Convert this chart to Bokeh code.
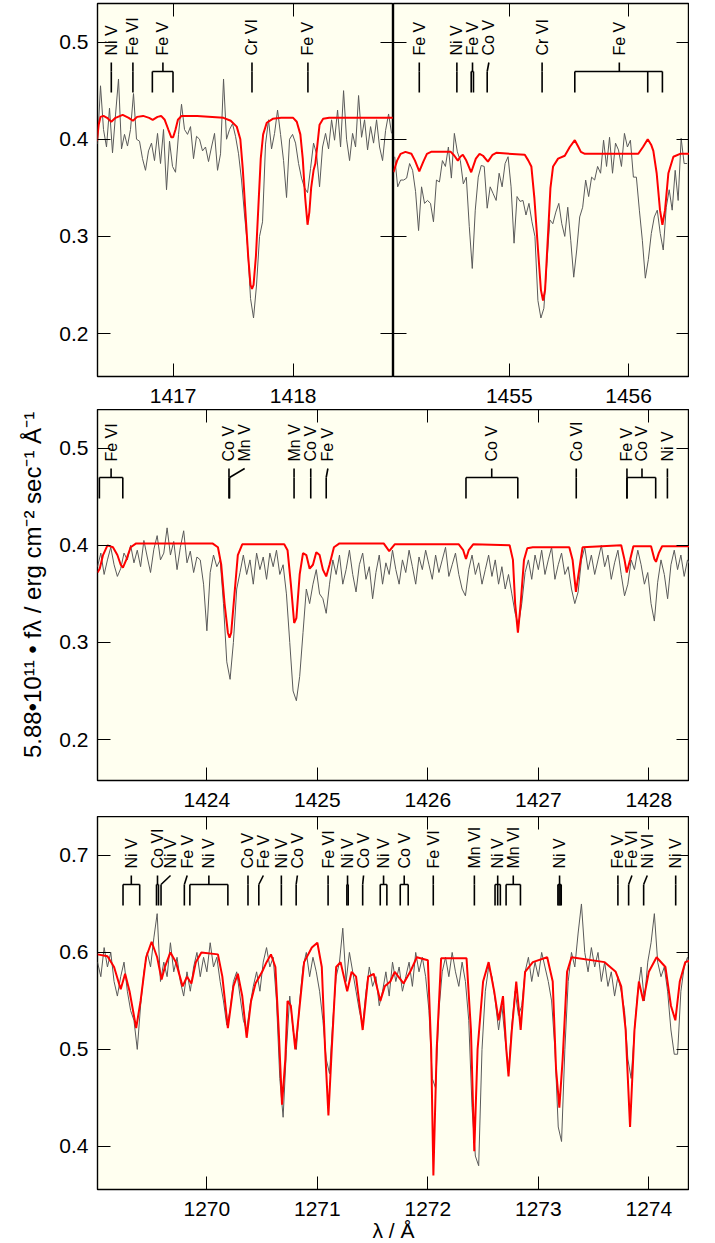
import numpy as np
from bokeh.plotting import figure
from bokeh.layouts import column, row
from bokeh.models import LinearAxis, FixedTicker, Range1d, CustomJSTickFormatter
from bokeh.embed import file_html
from bokeh.resources import INLINE
from bokeh.core.properties import value

FONT = "Liberation Sans"
BG = "#fffff0"
OBS_COLOR = "#5a5a5a"
MOD_COLOR = "#ff0000"

# ---------------- data: top-left panel (1416-1419 A) ----------------
TL_OBS_WL0 = 1416.37
TL_OBS_DWL = 0.025
TL_OBS_FLUX = [0.395, 0.455, 0.410, 0.392, 0.432, 0.386, 0.425, 0.462, 0.390, 0.405,
               0.393, 0.410, 0.447, 0.400, 0.398, 0.380, 0.368, 0.388, 0.396, 0.378,
               0.406, 0.375, 0.410, 0.348, 0.398, 0.372, 0.366, 0.405, 0.436, 0.410,
               0.405, 0.413, 0.380, 0.403, 0.400, 0.388, 0.392, 0.377, 0.392, 0.406,
               0.368, 0.385, 0.462, 0.400, 0.410, 0.416, 0.403, 0.385, 0.358, 0.322,
               0.290, 0.236, 0.216, 0.250, 0.300, 0.315, 0.395, 0.420, 0.390, 0.406,
               0.430, 0.405, 0.378, 0.340, 0.400, 0.405, 0.396, 0.375, 0.360, 0.350,
               0.345, 0.370, 0.396, 0.385, 0.351, 0.392, 0.406, 0.390, 0.420, 0.399,
               0.430, 0.392, 0.450, 0.400, 0.378, 0.406, 0.392, 0.445, 0.402, 0.420,
               0.389, 0.413, 0.396, 0.420, 0.392, 0.378, 0.409, 0.426, 0.406]
TL_MOD_WL = [1416.365, 1416.38, 1416.395, 1416.42, 1416.45, 1416.485, 1416.52, 1416.58, 1416.63, 1416.665,
             1416.70, 1416.75, 1416.80, 1416.83, 1416.87, 1416.90, 1416.93, 1416.96, 1416.985, 1417.00,
             1417.02, 1417.04, 1417.07, 1417.20, 1417.42, 1417.48, 1417.53, 1417.56, 1417.58, 1417.60,
             1417.625, 1417.645, 1417.657, 1417.67, 1417.69, 1417.71, 1417.73, 1417.75, 1417.78, 1417.83,
             1417.90, 1418.00, 1418.03, 1418.06, 1418.08, 1418.10, 1418.12, 1418.135, 1418.15, 1418.17,
             1418.185, 1418.20, 1418.22, 1418.25, 1418.30, 1418.83]
TL_MOD_FLUX = [0.398, 0.415, 0.423, 0.424, 0.422, 0.418, 0.422, 0.425, 0.422, 0.419,
               0.423, 0.424, 0.422, 0.420, 0.423, 0.424, 0.420, 0.410, 0.402, 0.402,
               0.410, 0.420, 0.424, 0.424, 0.422, 0.419, 0.413, 0.400, 0.370, 0.330,
               0.280, 0.250, 0.246, 0.250, 0.280, 0.330, 0.380, 0.405, 0.417, 0.421,
               0.422, 0.422, 0.418, 0.405, 0.380, 0.340, 0.312, 0.325, 0.350, 0.368,
               0.375, 0.392, 0.415, 0.421, 0.422, 0.422]
TL_IDS = [("Ni V", 1416.485, [1416.485]),
          ("Fe VI", 1416.665, [1416.665]),
          ("Fe V", 1416.915, [1416.827, 1416.999]),
          ("Cr VI", 1417.657, [1417.657]),
          ("Fe V", 1418.123, [1418.123])]

# ---------------- data: top-right panel (1454-1456.5 A) ----------------
TR_OBS_WL0 = 1454.04
TR_OBS_DWL = 0.025
TR_OBS_FLUX = [0.382, 0.351, 0.358, 0.358, 0.360, 0.375, 0.368, 0.346, 0.306, 0.351,
               0.334, 0.337, 0.334, 0.315, 0.358, 0.356, 0.378, 0.372, 0.392, 0.360,
               0.406, 0.387, 0.378, 0.354, 0.361, 0.310, 0.267, 0.327, 0.361, 0.373,
               0.372, 0.329, 0.351, 0.344, 0.337, 0.365, 0.351, 0.375, 0.382, 0.351,
               0.293, 0.341, 0.336, 0.337, 0.322, 0.334, 0.315, 0.300, 0.234, 0.216,
               0.226, 0.272, 0.317, 0.313, 0.325, 0.334, 0.313, 0.300, 0.330, 0.296,
               0.258, 0.286, 0.320, 0.330, 0.358, 0.341, 0.361, 0.358, 0.372, 0.365,
               0.399, 0.372, 0.402, 0.365, 0.396, 0.389, 0.372, 0.406, 0.392, 0.399,
               0.361, 0.361, 0.327, 0.296, 0.257, 0.276, 0.303, 0.320, 0.327, 0.303,
               0.286, 0.330, 0.348, 0.327, 0.368, 0.337, 0.401, 0.375, 0.375]
TR_MOD_WL = [1454.03, 1454.06, 1454.09, 1454.13, 1454.18, 1454.21, 1454.246, 1454.28, 1454.31, 1454.345,
             1454.51, 1454.54, 1454.569, 1454.59, 1454.611, 1454.64, 1454.681, 1454.72, 1454.751, 1454.78,
             1454.821, 1454.86, 1454.891, 1455.13, 1455.16, 1455.185, 1455.21, 1455.241, 1455.265, 1455.283,
             1455.30, 1455.325, 1455.345, 1455.367, 1455.409, 1455.465, 1455.507, 1455.549, 1455.575, 1455.60,
             1455.633, 1456.081, 1456.12, 1456.16, 1456.19, 1456.207, 1456.235, 1456.263, 1456.283, 1456.305,
             1456.333, 1456.375, 1456.431, 1456.51]
TR_MOD_FLUX = [0.366, 0.378, 0.385, 0.387, 0.385, 0.378, 0.367, 0.377, 0.385, 0.387,
               0.387, 0.383, 0.378, 0.382, 0.384, 0.378, 0.366, 0.380, 0.385, 0.383,
               0.377, 0.384, 0.386, 0.384, 0.378, 0.372, 0.340, 0.286, 0.245, 0.234,
               0.245, 0.303, 0.350, 0.372, 0.380, 0.383, 0.392, 0.399, 0.393, 0.387,
               0.385, 0.385, 0.392, 0.400, 0.394, 0.388, 0.365, 0.327, 0.312, 0.327,
               0.365, 0.382, 0.385, 0.385]
TR_IDS = [("Fe V", 1454.246, [1454.246]),
          ("Ni V", 1454.561, [1454.561]),
          ("Fe V", 1454.692, [1454.681, 1454.700]),
          ("Co V", 1454.829, [1454.815]),
          ("Cr VI", 1455.275, [1455.275]),
          ("Fe V", 1455.922, [1455.549, 1456.160, 1456.283])]

# ---------------- data: middle panel (1423-1428.4 A) ----------------
MID_OBS_WL0 = 1423.01
MID_OBS_DWL = 0.03
MID_OBS_FLUX = [0.378, 0.392, 0.370, 0.385, 0.398, 0.380, 0.368, 0.376, 0.392, 0.385,
                0.400, 0.382, 0.395, 0.378, 0.405, 0.388, 0.372, 0.396, 0.410, 0.385,
                0.392, 0.418, 0.390, 0.404, 0.375, 0.398, 0.415, 0.382, 0.394, 0.372,
                0.388, 0.385, 0.360, 0.312, 0.372, 0.390, 0.378, 0.385, 0.340, 0.280,
                0.262, 0.300, 0.355, 0.372, 0.390, 0.370, 0.385, 0.360, 0.392, 0.375,
                0.388, 0.365, 0.392, 0.378, 0.395, 0.370, 0.380, 0.350, 0.300, 0.250,
                0.240, 0.265, 0.310, 0.355, 0.340, 0.360, 0.375, 0.350, 0.345, 0.330,
                0.360, 0.385, 0.370, 0.390, 0.360, 0.375, 0.395, 0.370, 0.352, 0.380,
                0.392, 0.365, 0.378, 0.345, 0.372, 0.390, 0.360, 0.382, 0.370, 0.395,
                0.375, 0.360, 0.385, 0.372, 0.395, 0.378, 0.360, 0.388, 0.375, 0.395,
                0.380, 0.365, 0.390, 0.372, 0.385, 0.398, 0.368, 0.380, 0.392, 0.370,
                0.355, 0.348, 0.375, 0.390, 0.370, 0.382, 0.360, 0.375, 0.390, 0.368,
                0.385, 0.360, 0.378, 0.355, 0.370, 0.350, 0.330, 0.318, 0.340, 0.372,
                0.385, 0.365, 0.390, 0.375, 0.395, 0.370, 0.385, 0.398, 0.365, 0.380,
                0.392, 0.370, 0.378, 0.355, 0.340, 0.352, 0.385, 0.398, 0.375, 0.390,
                0.370, 0.385, 0.400, 0.378, 0.390, 0.365, 0.382, 0.395, 0.370, 0.348,
                0.360, 0.385, 0.375, 0.395, 0.380, 0.360, 0.372, 0.340, 0.322, 0.362,
                0.385, 0.370, 0.345, 0.380, 0.395, 0.375, 0.390, 0.368, 0.385, 0.378]
MID_MOD_WL = [1423.01, 1423.03, 1423.06, 1423.10, 1423.15, 1423.19, 1423.22, 1423.24, 1423.27, 1423.31,
              1423.36, 1424.05, 1424.10, 1424.13, 1424.16, 1424.19, 1424.205, 1424.22, 1424.25, 1424.28,
              1424.32, 1424.70, 1424.73, 1424.76, 1424.79, 1424.81, 1424.84, 1424.87, 1424.90, 1424.93,
              1424.96, 1424.99, 1425.02, 1425.05, 1425.08, 1425.11, 1425.15, 1425.20, 1425.60, 1425.65,
              1425.70, 1426.28, 1426.32, 1426.345, 1426.37, 1426.41, 1426.74, 1426.77, 1426.79, 1426.815,
              1426.84, 1426.87, 1426.90, 1426.95, 1427.28, 1427.31, 1427.34, 1427.37, 1427.40, 1427.75,
              1427.78, 1427.80, 1427.83, 1427.86, 1428.02, 1428.05, 1428.065, 1428.09, 1428.12, 1428.38]
MID_MOD_FLUX = [0.372, 0.376, 0.390, 0.400, 0.398, 0.390, 0.380, 0.377, 0.385, 0.398,
                0.402, 0.402, 0.398, 0.380, 0.340, 0.310, 0.305, 0.310, 0.350, 0.390,
                0.401, 0.401, 0.395, 0.360, 0.320, 0.325, 0.370, 0.392, 0.390, 0.376,
                0.380, 0.393, 0.390, 0.375, 0.368, 0.380, 0.398, 0.402, 0.402, 0.394,
                0.401, 0.401, 0.395, 0.386, 0.395, 0.401, 0.400, 0.385, 0.340, 0.310,
                0.340, 0.385, 0.397, 0.398, 0.398, 0.385, 0.352, 0.375, 0.398, 0.400,
                0.385, 0.372, 0.385, 0.399, 0.399, 0.386, 0.383, 0.392, 0.399, 0.399]
MID_IDS = [("Fe VI", 1423.133, [1423.027, 1423.239]),
           ("Co V", 1424.200, [1424.200]),
           ("Mn V", 1424.342, [1424.205]),
           ("Mn V", 1424.789, [1424.789]),
           ("Co V", 1424.940, [1424.940]),
           ("Fe V", 1425.095, [1425.080]),
           ("Co V", 1426.578, [1426.345, 1426.814]),
           ("Co VI", 1427.343, [1427.343]),
           ("Fe V", 1427.802, [1427.802]),
           ("Co V", 1427.938, [1427.802, 1428.062]),
           ("Ni V", 1428.168, [1428.168])]

# ---------------- data: bottom panel (1269-1274.4 A) ----------------
BOT_OBS_WL0 = 1269.01
BOT_OBS_DWL = 0.03
BOT_OBS_FLUX = [0.590, 0.575, 0.605, 0.585, 0.600, 0.570, 0.555, 0.575, 0.590, 0.560,
                0.540, 0.530, 0.500, 0.545, 0.580, 0.600, 0.585, 0.615, 0.640, 0.570,
                0.590, 0.575, 0.610, 0.580, 0.595, 0.570, 0.555, 0.580, 0.560, 0.585,
                0.600, 0.575, 0.595, 0.580, 0.610, 0.585, 0.595, 0.570, 0.550, 0.525,
                0.540, 0.570, 0.580, 0.555, 0.530, 0.520, 0.545, 0.565, 0.580, 0.560,
                0.590, 0.605, 0.585, 0.595, 0.550, 0.470, 0.430, 0.500, 0.555, 0.520,
                0.500, 0.550, 0.585, 0.600, 0.575, 0.595, 0.580, 0.560, 0.530, 0.490,
                0.475, 0.530, 0.575, 0.590, 0.625, 0.570, 0.600, 0.580, 0.560, 0.540,
                0.525, 0.560, 0.585, 0.565, 0.575, 0.545, 0.560, 0.580, 0.555, 0.590,
                0.570, 0.585, 0.560, 0.575, 0.590, 0.565, 0.600, 0.580, 0.595, 0.575,
                0.540, 0.470, 0.460, 0.540, 0.580, 0.595, 0.575, 0.600, 0.580, 0.565,
                0.590, 0.570, 0.530, 0.440, 0.390, 0.380, 0.500, 0.560, 0.585, 0.575,
                0.550, 0.520, 0.545, 0.510, 0.480, 0.525, 0.560, 0.535, 0.545, 0.580,
                0.595, 0.570, 0.590, 0.575, 0.600, 0.585, 0.570, 0.550, 0.500, 0.420,
                0.405, 0.500, 0.570, 0.600, 0.585, 0.620, 0.650, 0.600, 0.580, 0.605,
                0.585, 0.600, 0.570, 0.590, 0.565, 0.580, 0.555, 0.575, 0.560, 0.540,
                0.490, 0.470, 0.520, 0.560, 0.585, 0.550, 0.590, 0.610, 0.640, 0.590,
                0.575, 0.585, 0.560, 0.520, 0.495, 0.495, 0.560, 0.585, 0.595, 0.580]
BOT_MOD_WL = [1269.01, 1269.10, 1269.16, 1269.22, 1269.26, 1269.30, 1269.36, 1269.40, 1269.45, 1269.50,
              1269.55, 1269.59, 1269.62, 1269.67, 1269.72, 1269.78, 1269.82, 1269.86, 1269.90, 1269.95,
              1270.10, 1270.14, 1270.19, 1270.24, 1270.28, 1270.32, 1270.36, 1270.40, 1270.44, 1270.50,
              1270.54, 1270.58, 1270.62, 1270.65, 1270.68, 1270.71, 1270.73, 1270.76, 1270.80, 1270.84,
              1270.88, 1270.95, 1271.00, 1271.04, 1271.07, 1271.10, 1271.13, 1271.17, 1271.21, 1271.27,
              1271.31, 1271.35, 1271.41, 1271.46, 1271.51, 1271.57, 1271.61, 1271.66, 1271.70, 1271.78,
              1271.84, 1271.90, 1272.00, 1272.03, 1272.05, 1272.08, 1272.12, 1272.35, 1272.39, 1272.42,
              1272.45, 1272.50, 1272.55, 1272.60, 1272.64, 1272.68, 1272.71, 1272.73, 1272.76, 1272.80,
              1272.84, 1272.88, 1272.95, 1273.08, 1273.13, 1273.16, 1273.19, 1273.22, 1273.26, 1273.30,
              1273.60, 1273.70, 1273.75, 1273.79, 1273.83, 1273.87, 1273.91, 1273.95, 1274.00, 1274.07,
              1274.15, 1274.20, 1274.24, 1274.28, 1274.33, 1274.38]
BOT_MOD_FLUX = [0.598, 0.596, 0.585, 0.562, 0.578, 0.560, 0.522, 0.550, 0.595, 0.611,
                0.595, 0.572, 0.585, 0.600, 0.590, 0.565, 0.575, 0.568, 0.590, 0.600,
                0.598, 0.575, 0.522, 0.565, 0.578, 0.555, 0.512, 0.550, 0.568, 0.580,
                0.590, 0.598, 0.585, 0.520, 0.443, 0.490, 0.550, 0.545, 0.500, 0.545,
                0.590, 0.605, 0.610, 0.585, 0.500, 0.432, 0.500, 0.585, 0.590, 0.560,
                0.580, 0.575, 0.520, 0.575, 0.578, 0.550, 0.565, 0.570, 0.580, 0.568,
                0.580, 0.595, 0.592, 0.500, 0.370, 0.500, 0.594, 0.594, 0.520, 0.395,
                0.500, 0.570, 0.590, 0.560, 0.530, 0.555, 0.500, 0.472, 0.520, 0.570,
                0.520, 0.580, 0.590, 0.595, 0.570, 0.480, 0.440, 0.490, 0.580, 0.595,
                0.590, 0.580, 0.565, 0.520, 0.420, 0.520, 0.570, 0.550, 0.580, 0.595,
                0.585, 0.545, 0.530, 0.570, 0.590, 0.592]
BOT_IDS = [("Ni V", 1269.316, [1269.241, 1269.392]),
           ("Co VI", 1269.553, [1269.544, 1269.562]),
           ("Ni V", 1269.671, [1269.585]),
           ("Fe V", 1269.822, [1269.796]),
           ("Ni V", 1270.018, [1269.846, 1270.190]),
           ("Co V", 1270.372, [1270.372]),
           ("Fe V", 1270.511, [1270.470]),
           ("Ni V", 1270.674, [1270.674]),
           ("Co V", 1270.819, [1270.808]),
           ("Fe VI", 1271.097, [1271.097]),
           ("Ni V", 1271.273, [1271.267, 1271.279]),
           ("Co V", 1271.418, [1271.410]),
           ("Ni V", 1271.599, [1271.569, 1271.629]),
           ("Co V", 1271.786, [1271.750, 1271.822]),
           ("Fe VI", 1272.049, [1272.049]),
           ("Mn VI", 1272.421, [1272.421]),
           ("Ni V", 1272.632, [1272.608, 1272.632, 1272.656]),
           ("Mn VI", 1272.773, [1272.708, 1272.838]),
           ("Ni V", 1273.192, [1273.177, 1273.187, 1273.197, 1273.207]),
           ("Fe V", 1273.720, [1273.720]),
           ("Fe VI", 1273.847, [1273.817]),
           ("Ni VI", 1273.986, [1273.953]),
           ("Ni V", 1274.243, [1274.243])]

# ---------------- axis ranges and ticks ----------------
TL_XR = (1416.37, 1418.836)
TR_XR = (1454.03, 1456.51)
MID_XR = (1423.01, 1428.368)
BOT_XR = (1269.01, 1274.368)
TOP_YR = (0.1558, 0.5397)
MID_YR = (0.1578, 0.5399)
BOT_YR = (0.3555, 0.7402)
TL_XT = [1417, 1418]
TR_XT = [1455, 1456]
MID_XT = [1424, 1425, 1426, 1427, 1428]
BOT_XT = [1270, 1271, 1272, 1273, 1274]
TOP_YT = [0.2, 0.3, 0.4, 0.5]
BOT_YT = [0.4, 0.5, 0.6, 0.7]

Y_LABEL = "\u00a0\u00a0\u00a05.88\u202210\u00b9\u00b9 \u2022 f\u03bb / erg cm\u207b\u00b2 sec\u207b\u00b9 \u00c5\u207b\u00b9"
X_LABEL = "\u03bb / \u00c5"

TICK_FS = "21px"
ID_FS = "16px"


def style_axis(ax, ticks, labels, standoff=9):
    ax.ticker = FixedTicker(ticks=ticks)
    ax.major_tick_in = 13
    ax.major_tick_out = 0
    ax.minor_tick_in = 0
    ax.minor_tick_out = 0
    ax.minor_tick_line_color = None
    ax.axis_line_color = None
    ax.major_tick_line_color = "black"
    ax.major_tick_line_width = 1
    if labels:
        ax.major_label_text_font = FONT
        ax.major_label_text_font_size = TICK_FS
        ax.major_label_text_color = "black"
        ax.major_label_standoff = standoff
    else:
        ax.formatter = CustomJSTickFormatter(code="return '';")
        ax.major_label_text_font_size = "0px"
        ax.major_label_standoff = 0
        ax.axis_label_standoff = 0


def panel(xr, yr, fw, fh, xt, yt, left_labels, mb_left, mb_top, mb_bottom):
    p = figure(x_range=Range1d(*xr), y_range=Range1d(*yr), frame_width=fw, frame_height=fh,
               x_axis_location=None, y_axis_location=None,
               output_backend="svg", toolbar_location=None,
               min_border_left=mb_left, min_border_right=0, min_border_top=mb_top,
               min_border_bottom=mb_bottom,
               background_fill_color=BG, border_fill_color="white",
               outline_line_color="black", outline_line_width=1.4)
    p.xgrid.visible = False
    p.ygrid.visible = False
    axes = {}
    for loc, ticks, lab, so in (("below", xt, True, 12), ("above", xt, False, 0),
                                ("left", yt, left_labels, 9), ("right", yt, False, 0)):
        ax = LinearAxis()
        style_axis(ax, ticks, lab, so)
        p.add_layout(ax, loc)
        axes[loc] = ax
    return p, axes


def draw_spectra(p, wl0, dwl, obs, mwl, mflux):
    x = wl0 + dwl * np.arange(len(obs))
    p.line(x, obs, color=OBS_COLOR, line_width=1)
    p.line(mwl, mflux, color=MOD_COLOR, line_width=2)


def draw_ids(p, ids, yr, fh):
    ytop = yr[1]
    ppu = fh / (yr[1] - yr[0])
    y_text = ytop - 52 / ppu
    y_stem = ytop - 59 / ppu
    y_br = ytop - 68 / ppu
    y_bot = ytop - 89 / ppu
    x0, y0, x1, y1 = [], [], [], []
    tx, tt = [], []
    for name, lx, lines in ids:
        tx.append(lx)
        tt.append(name)
        if len(lines) == 1:
            lam = lines[0]
            x0 += [lx, lam]; y0 += [y_stem, y_br]; x1 += [lam, lam]; y1 += [y_br, y_bot]
        else:
            x0 += [lx, min(lines)]; y0 += [y_stem, y_br]; x1 += [lx, max(lines)]; y1 += [y_br, y_br]
            for lam in lines:
                x0.append(lam); y0.append(y_br); x1.append(lam); y1.append(y_bot)
    p.segment(x0, y0, x1, y1, color="black", line_width=1.6)
    p.text(tx, [y_text] * len(tx), text=tt, angle=np.pi / 2, text_align="left",
           text_baseline="middle", text_font=value(FONT), text_font_size=ID_FS,
           text_color="black")


# top-left
pTL, _ = panel(TL_XR, TOP_YR, 296, 373, TL_XT, TOP_YT, True, 97, 3, 33)
draw_spectra(pTL, TL_OBS_WL0, TL_OBS_DWL, TL_OBS_FLUX, TL_MOD_WL, TL_MOD_FLUX)
draw_ids(pTL, TL_IDS, TOP_YR, 373)

# top-right
pTR, _ = panel(TR_XR, TOP_YR, 296, 373, TR_XT, TOP_YT, False, 0, 3, 33)
draw_spectra(pTR, TR_OBS_WL0, TR_OBS_DWL, TR_OBS_FLUX, TR_MOD_WL, TR_MOD_FLUX)
draw_ids(pTR, TR_IDS, TOP_YR, 373)

# middle
pM, axM = panel(MID_XR, MID_YR, 592, 371, MID_XT, TOP_YT, True, 97, 0, 36)
draw_spectra(pM, MID_OBS_WL0, MID_OBS_DWL, MID_OBS_FLUX, MID_MOD_WL, MID_MOD_FLUX)
draw_ids(pM, MID_IDS, MID_YR, 371)
axM["left"].axis_label = Y_LABEL
axM["left"].axis_label_text_font = FONT
axM["left"].axis_label_text_font_size = "24px"
axM["left"].axis_label_text_font_style = "normal"
axM["left"].axis_label_text_color = "black"
axM["left"].axis_label_standoff = 10

# bottom
pB, axB = panel(BOT_XR, BOT_YR, 592, 373, BOT_XT, BOT_YT, True, 97, 0, 54)
draw_spectra(pB, BOT_OBS_WL0, BOT_OBS_DWL, BOT_OBS_FLUX, BOT_MOD_WL, BOT_MOD_FLUX)
draw_ids(pB, BOT_IDS, BOT_YR, 373)
axB["below"].axis_label = X_LABEL
axB["below"].axis_label_text_font = FONT
axB["below"].axis_label_text_font_size = "21px"
axB["below"].axis_label_text_font_style = "normal"
axB["below"].axis_label_text_color = "black"
axB["below"].axis_label_standoff = 0

layout = column(row(pTL, pTR), pM, pB)

open("out.html", "w").write(file_html(layout, INLINE))
